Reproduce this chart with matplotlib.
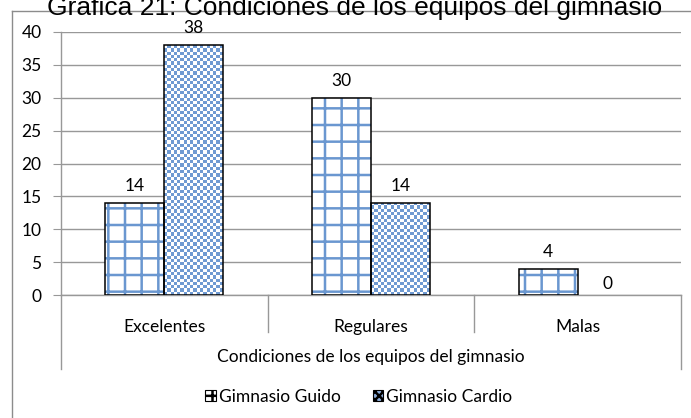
import numpy as np
import matplotlib.pyplot as plt
from matplotlib.lines import Line2D
from matplotlib.patches import Rectangle
from matplotlib.colors import ListedColormap
import matplotlib.transforms as mtransforms

plt.rcParams["font.family"] = ["Lato", "DejaVu Sans"]
plt.rcParams["hatch.linewidth"] = 1.8

categories = ["Excelentes", "Regulares", "Malas"]
guido = [14, 30, 4]
cardio = [38, 14, 0]
series_names = ["Gimnasio Guido", "Gimnasio Cardio"]
title = "Gráfica 21: Condiciones de los equipos del gimnasio"
axis_title = "Condiciones de los equipos del gimnasio"

blue = "#6A97D0"
grey = "#989898"
fs = 12.5

fig = plt.figure(figsize=(6.91, 4.18), dpi=100)
ax = fig.add_axes([61 / 691, 1 - 295 / 418, 620 / 691, 263 / 418])

x = np.arange(len(categories))
w = 0.285

# Guido: white with a blue grid, black outline
ax.bar(x - w / 2, guido, w, facecolor="white", edgecolor=blue,
       linewidth=0, hatch="+", zorder=3)
ax.bar(x - w / 2, guido, w, facecolor="none", edgecolor="black",
       linewidth=1.1, zorder=4)

# Cardio: fine blue/white checkerboard, black outline
bars_c = ax.bar(x + w / 2, cardio, w, facecolor="none", edgecolor="black",
                linewidth=1.1, zorder=4)
checker = ListedColormap(["white", "#6F9AD2"])
for b in bars_c:
    h = b.get_height()
    if h <= 0:
        b.set_linewidth(0)
        continue
    ncol = 18
    nrow = max(1, int(round(h / 0.5)))
    cb = (np.indices((nrow, ncol)).sum(axis=0) % 2).astype(float)
    im = ax.imshow(cb, cmap=checker, extent=[b.get_x(), b.get_x() + b.get_width(), 0, h],
                   aspect="auto", interpolation="nearest", zorder=3)
    im.set_clip_path(b)

for xi, v in zip(x - w / 2, guido):
    ax.text(xi, v + 2.6, str(v), ha="center", va="center", fontsize=fs)
for xi, v in zip(x + w / 2, cardio):
    dy = 1.7 if v == 0 else 2.6
    ax.text(xi, v + dy, str(v), ha="center", va="center", fontsize=fs)

ax.set_xlim(-0.5, 2.5)
ax.set_ylim(0, 40)
ax.set_yticks(range(0, 41, 5))
ax.yaxis.grid(True, color=grey, linewidth=1.0, zorder=0)
ax.set_axisbelow(True)
ax.tick_params(axis="y", length=6, color=grey, labelsize=fs, pad=8)
ax.set_xticks(x)
ax.set_xticklabels(categories, fontsize=fs)
ax.tick_params(axis="x", length=0, pad=17)
for s in ["top", "right"]:
    ax.spines[s].set_visible(False)
for s in ["left", "bottom"]:
    ax.spines[s].set_color(grey)
    ax.spines[s].set_linewidth(1.0)

trans = mtransforms.blended_transform_factory(ax.transData, ax.transAxes)
y_sep = (295 - 332) / 263
y_out = (295 - 369) / 263
for xs in [0.5, 1.5]:
    ax.add_line(Line2D([xs, xs], [0, y_sep], transform=trans, color=grey,
                       linewidth=1.0, clip_on=False))
for xs in [-0.5, 2.5]:
    ax.add_line(Line2D([xs, xs], [0, y_out], transform=trans, color=grey,
                       linewidth=1.0, clip_on=False))
ax.text(1, (295 - 357) / 263, axis_title, transform=trans, ha="center",
        va="center", fontsize=fs)

# legend
handles = [Rectangle((0, 0), 1, 1, facecolor="white", edgecolor="black",
                     hatch="++", linewidth=0.8),
           Rectangle((0, 0), 1, 1, facecolor="#8DAEDB", edgecolor="black",
                     hatch="xxxx", linewidth=0.8)]
fig.legend(handles, series_names, loc="center", bbox_to_anchor=(359 / 691, 1 - 397 / 418),
           ncol=2, frameon=False, fontsize=fs, handlelength=0.6, handleheight=0.6,
           handletextpad=0.2, columnspacing=1.8)

# title and outer frame
fig.text(355 / 691, 1 - 8 / 418, title, ha="center", va="center",
         fontsize=19, family="Liberation Sans")
fig.add_artist(Line2D([11.5 / 691, 11.5 / 691], [0, 1 - 11 / 418],
                      transform=fig.transFigure, color="#8C8C8C", linewidth=1.0))
fig.add_artist(Line2D([11.5 / 691, 1], [1 - 11 / 418, 1 - 11 / 418],
                      transform=fig.transFigure, color="#8C8C8C", linewidth=1.0))

fig.savefig("out.png", dpi=100)
